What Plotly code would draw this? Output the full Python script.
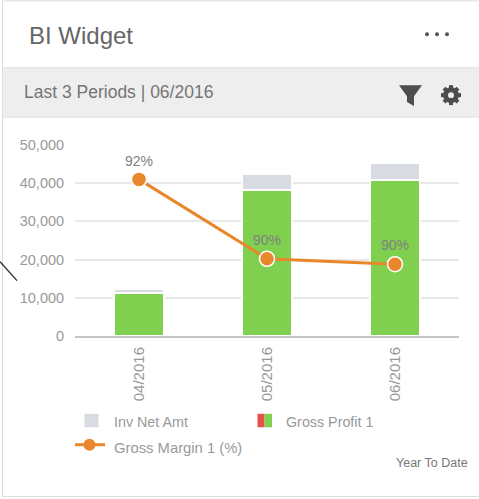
import plotly.graph_objects as go

periods = ["04/2016", "05/2016", "06/2016"]
gross_profit = [11200, 38250, 40800]
inv_net_amt = [1100, 4100, 4400]
gross_margin_pos = [41000, 20200, 18800]
gross_margin_labels = ["92%", "90%", "90%"]
y_ticks = [0, 10000, 20000, 30000, 40000, 50000]

W, H = 479, 499
L, R, T, B = 75, 459, 145, 336.5
ORANGE = "#E8872B"
GREEN = "#7ED04E"
GREY = "#D9DBE2"
FONT = "Liberation Sans, Arial, sans-serif"


def px(x):
    return (x - L) / (R - L)


def py(y):
    return (B - y) / (B - T)


def path(points):
    return "M" + " L".join(f"{px(x):.5f},{py(y):.5f}" for x, y in points) + " Z"


def rect(x0, y0, x1, y1, fill, line=None):
    return dict(type="rect", xref="paper", yref="paper", x0=px(x0), x1=px(x1), y0=py(y0), y1=py(y1),
                fillcolor=fill, line=dict(color=line or fill, width=1 if line else 0), layer="below")


def circle(cx, cy, r, fill):
    return dict(type="circle", xref="paper", yref="paper", x0=px(cx - r), x1=px(cx + r), y0=py(cy - r), y1=py(cy + r),
                fillcolor=fill, line=dict(width=0), layer="above")


def seg(x0, y0, x1, y1, color, width):
    return dict(type="line", xref="paper", yref="paper", x0=px(x0), x1=px(x1), y0=py(y0), y1=py(y1),
                line=dict(color=color, width=width), layer="above")


def label(x, y, text, size, color, xanchor="left"):
    return dict(xref="paper", yref="paper", x=px(x), y=py(y), text=text, showarrow=False, xanchor=xanchor,
                yanchor="middle", font=dict(size=size, color=color, family=FONT), borderpad=0, borderwidth=0)


shapes = [
    rect(2.5, 0.5, 482, 497.5, "#ffffff", "#dcdcdc"),
    rect(2.5, 67.5, 482, 117, "#eeeeee", "#e0e0e0"),
    seg(0, 262, 17, 281, "#333333", 1.4),
    # header dots
    circle(427, 34, 2, "#555555"),
    circle(437, 34, 2, "#555555"),
    circle(447, 34, 2, "#555555"),
    # filter icon
    dict(type="path", xref="paper", yref="paper", layer="above", line=dict(width=0), fillcolor="#4d4d4d",
         path=path([(399, 85), (422, 85), (414, 96), (414, 106), (407, 102), (407, 96)])),
    # gear icon
    circle(451, 95, 8, "#4d4d4d"),
    seg(451, 85, 451, 105, "#4d4d4d", 4),
    seg(441, 95, 461, 95, "#4d4d4d", 4),
    seg(444, 88, 458, 102, "#4d4d4d", 4),
    seg(444, 102, 458, 88, "#4d4d4d", 4),
    circle(451, 95, 3, "#eeeeee"),
    # legend swatches
    rect(84.5, 414.5, 98.5, 428, GREY),
    rect(257.5, 414.5, 264.5, 428, "#E8504A"),
    rect(264.5, 414.5, 272, 428, GREEN),
    seg(75, 445.5, 105, 445.5, ORANGE, 3),
    circle(89.5, 445.5, 6, ORANGE),
]

annotations = [
    label(29, 35, "BI Widget", 24, "#666666"),
    label(24, 91.5, "Last 3 Periods | 06/2016", 17.5, "#757575"),
    label(113.5, 423, "Inv Net Amt", 14.3, "#999999"),
    label(285.5, 423, "Gross Profit 1", 14.3, "#999999"),
    label(113.5, 449, "Gross Margin 1 (%)", 14.8, "#999999"),
    label(396, 463.5, "Year To Date", 12.5, "#777777"),
]

fig = go.Figure()
fig.add_bar(x=periods, y=gross_profit, name="Gross Profit 1",
            marker=dict(color=GREEN, line=dict(color="#ffffff", width=1.5)))
fig.add_bar(x=periods, y=inv_net_amt, name="Inv Net Amt",
            marker=dict(color=GREY, line=dict(color="#ffffff", width=1.5)))
fig.add_scatter(x=periods, y=gross_margin_pos, name="Gross Margin 1 (%)", mode="lines+markers+text",
                text=gross_margin_labels, textposition="top center",
                textfont=dict(size=14, color="#808080", family=FONT),
                line=dict(color=ORANGE, width=3),
                marker=dict(size=15, color=ORANGE, line=dict(color="#ffffff", width=1.5)))

fig.update_layout(
    width=W, height=H, autosize=False, showlegend=False, barmode="stack", bargap=0.61,
    margin=dict(l=L, r=W - R, t=T, b=H - B, pad=0),
    paper_bgcolor="#ffffff", plot_bgcolor="rgba(0,0,0,0)",
    shapes=shapes, annotations=annotations, font=dict(family=FONT),
)
fig.update_xaxes(type="category", categoryorder="array", categoryarray=periods, range=[-0.5, 2.5],
                 tickangle=-90, tickfont=dict(size=15, color="#999999"), ticks="outside", ticklen=3,
                 tickcolor="rgba(0,0,0,0)", showline=True, linecolor="#c4c4c4", linewidth=2, showgrid=False)
fig.update_yaxes(range=[0, 50000], tickvals=y_ticks, tickformat=",d", tickfont=dict(size=14.5, color="#999999"),
                 ticks="outside", ticklen=7, tickcolor="rgba(0,0,0,0)", gridcolor="#e8e8e8", gridwidth=2,
                 zeroline=False, showline=False)

fig.write_html("out.html", config=dict(displayModeBar=False),
               post_script="document.body.style.margin='0';")
